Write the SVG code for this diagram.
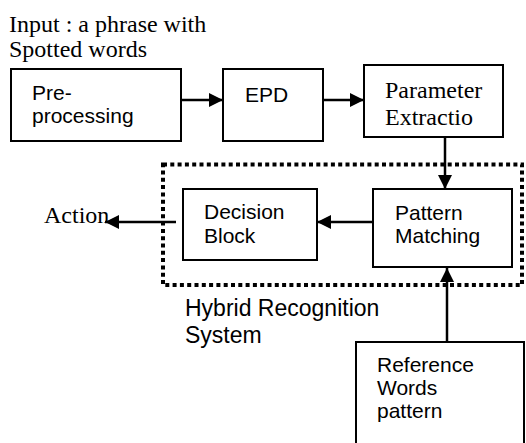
<svg xmlns="http://www.w3.org/2000/svg" width="526" height="443" viewBox="0 0 526 443">
<style>
.box{fill:#fff;stroke:#000;stroke-width:2}
.sans{font-family:"Liberation Sans",Arial,sans-serif;font-size:21px;fill:#000}
.serif{font-family:"Liberation Serif","Times New Roman",serif;font-size:24px;fill:#000}
.conn{stroke:#000;stroke-width:2.5;fill:none}
</style>
<defs>
<marker id="ah" markerWidth="14" markerHeight="14" refX="14" refY="7" orient="auto" markerUnits="userSpaceOnUse">
<path d="M0,0 L14,7 L0,14 Z" fill="#000"/>
</marker>
</defs>
<rect width="526" height="443" fill="#fff"/>
<g id="input-label">
<text class="serif" x="9" y="31.5">Input : a phrase with</text>
<text class="serif" x="9" y="56.5">Spotted words</text>
</g>
<g id="hybrid-system">
<rect x="163" y="164.5" width="359" height="120.5" fill="none" stroke="#000" stroke-width="4" stroke-dasharray="4 3.3"/>
<text class="sans" x="185" y="316" style="font-size:23px">Hybrid Recognition</text>
<text class="sans" x="185" y="343" style="font-size:23px">System</text>
</g>
<g id="preprocessing">
<rect class="box" x="11" y="69" width="170" height="72"/>
<text class="sans" x="32" y="100">Pre-</text>
<text class="sans" x="32" y="123">processing</text>
</g>
<g id="epd">
<rect class="box" x="223" y="69" width="100" height="72"/>
<text class="sans" x="245" y="102">EPD</text>
</g>
<g id="parameter">
<rect class="box" x="364" y="65" width="139" height="72"/>
<text class="serif" x="385" y="98">Parameter</text>
<text class="serif" x="385" y="125">Extractio</text>
</g>
<g id="decision">
<rect class="box" x="183" y="189" width="134" height="71"/>
<text class="sans" x="204" y="219">Decision</text>
<text class="sans" x="204" y="243">Block</text>
</g>
<g id="pattern">
<rect class="box" x="373" y="189" width="139" height="78"/>
<text class="sans" x="395" y="220">Pattern</text>
<text class="sans" x="395" y="243">Matching</text>
</g>
<g id="reference">
<rect class="box" x="356" y="342" width="168" height="110"/>
<text class="sans" x="377" y="372">Reference</text>
<text class="sans" x="377" y="395">Words</text>
<text class="sans" x="377" y="418">pattern</text>
</g>
<g id="action-label">
<text class="serif" x="44" y="223">Action</text>
</g>
<g id="connectors">
<line class="conn" x1="181" y1="100" x2="223" y2="100" marker-end="url(#ah)"/>
<line class="conn" x1="323" y1="100" x2="364" y2="100" marker-end="url(#ah)"/>
<line class="conn" x1="445" y1="137" x2="445" y2="189" marker-end="url(#ah)"/>
<line class="conn" x1="373" y1="222" x2="317" y2="222" marker-end="url(#ah)"/>
<line class="conn" x1="176" y1="222" x2="105" y2="222" marker-end="url(#ah)"/>
<line class="conn" x1="447" y1="342" x2="447" y2="268" marker-end="url(#ah)"/>
</g>
</svg>
